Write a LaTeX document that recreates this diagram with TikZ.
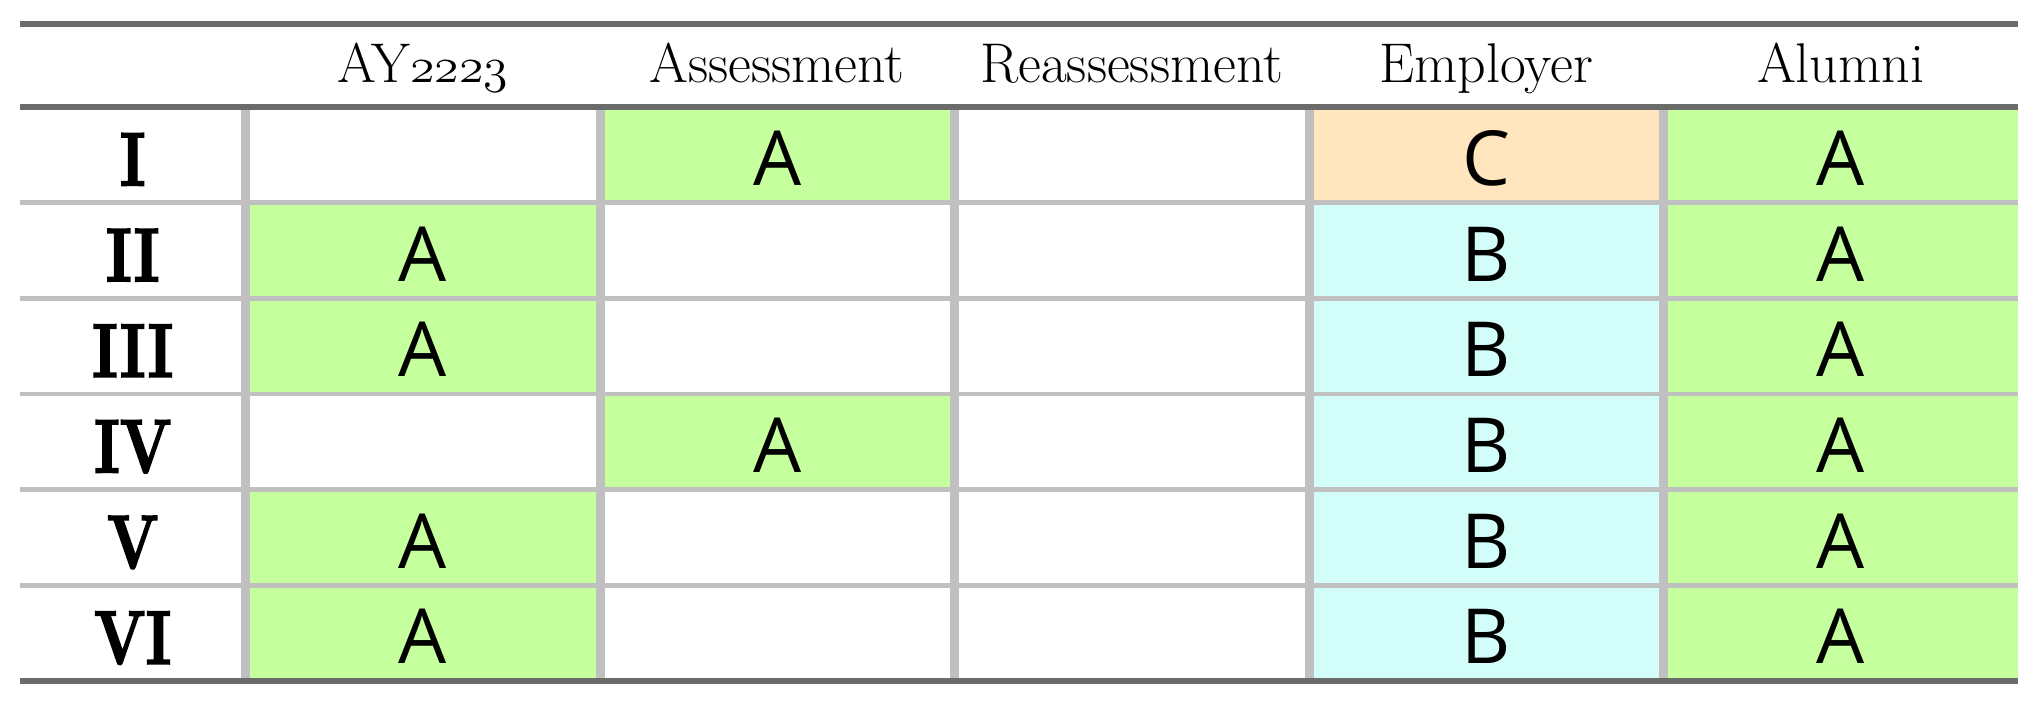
\documentclass[tikz,border=0pt]{standalone}
\usepackage{fontspec}
\newfontfamily\cellfont{Open Sans}
\newfontfamily\labfont{lmroman10-bold.otf}[FakeBold=2.5]
\definecolor{cgreen}{RGB}{197,255,158}
\definecolor{corange}{RGB}{255,230,190}
\definecolor{ccyan}{RGB}{210,253,249}
\definecolor{rulegray}{RGB}{107,107,107}
\definecolor{linegray}{RGB}{192,192,192}
\begin{document}
\begin{tikzpicture}[x=0.5pt,y=-0.5pt,
  hdr/.style={anchor=base,inner sep=0pt,font=\fontsize{28}{33}\selectfont},
  rowlab/.style={anchor=base,inner sep=0pt,font=\labfont\fontsize{38}{44}\selectfont},
  cell/.style={anchor=base,inner sep=0pt,font=\cellfont\fontsize{38}{44}\selectfont},
  thickrule/.style={draw=rulegray,line width=3.2pt},
  hsep/.style={draw=linegray,line width=2.2pt},
  vsep/.style={draw=linegray,line width=4.5pt}]
\def\xa{20}\def\xb{245.5}\def\xc{600}\def\xd{954.5}\def\xe{1309}\def\xf{1663.5}\def\xg{2018}
\def\ya{107}\def\yb{202.67}\def\yc{298.33}\def\yd{394}\def\ye{489.67}\def\yf{585.33}\def\yg{681}
\useasboundingbox (0,0) rectangle (2039,705);
% fills
\fill[cgreen] (\xf,\ya) rectangle (\xg,\yg);
\fill[ccyan] (\xe,\yb) rectangle (\xf,\yg);
\fill[corange] (\xe,\ya) rectangle (\xf,\yb);
\fill[cgreen] (\xb,\yb) rectangle (\xc,\yd);
\fill[cgreen] (\xb,\ye) rectangle (\xc,\yg);
\fill[cgreen] (\xc,\ya) rectangle (\xd,\yb);
\fill[cgreen] (\xc,\yd) rectangle (\xd,\ye);
% inner horizontal lines
\foreach \yy in {\yb,\yc,\yd,\ye,\yf}
  \draw[hsep] (\xa,\yy) -- (\xg,\yy);
% vertical lines
\foreach \xx in {\xb,\xc,\xd,\xe,\xf}
  \draw[vsep] (\xx,\ya) -- (\xx,\yg);
% thick rules
\draw[thickrule] (\xa,24) -- (\xg,24);
\draw[thickrule] (\xa,\ya) -- (\xg,\ya);
\draw[thickrule] (\xa,\yg) -- (\xg,\yg);
% header
\node[hdr] (h1) at (422.75,83) {AY{\usefont{OML}{cmm}{m}{it}2223}};
\node[hdr] (h2) at (777.25,83) {Assessment};
\node[hdr] (h3) at (1131.75,83) {Reassessment};
\node[hdr] (h4) at (1486.25,83) {Employer};
\node[hdr] (h5) at (1840.75,83) {Alumni};
% row labels
\node[rowlab] (r1) at (132.75,185.5) {\scalebox{0.78}[1]{I}};
\node[rowlab] (r2) at (132.75,281.2) {\scalebox{0.78}[1]{II}};
\node[rowlab] (r3) at (132.75,376.8) {\scalebox{0.78}[1]{III}};
\node[rowlab] (r4) at (132.75,472.5) {\scalebox{0.78}[1]{IV}};
\node[rowlab] (r5) at (132.75,568.2) {\scalebox{0.78}[1]{V}};
\node[rowlab] (r6) at (132.75,663.8) {\scalebox{0.78}[1]{VI}};
% cells
\node[cell] (c12) at (777.25,185.5) {A};
\node[cell] (c14) at (1486.25,185.5) {C};
\node[cell] (c15) at (1840.75,185.5) {A};
\node[cell] (c21) at (422.75,281.2) {A};
\node[cell] (c24) at (1486.25,281.2) {B};
\node[cell] (c25) at (1840.75,281.2) {A};
\node[cell] (c31) at (422.75,376.8) {A};
\node[cell] (c34) at (1486.25,376.8) {B};
\node[cell] (c35) at (1840.75,376.8) {A};
\node[cell] (c42) at (777.25,472.5) {A};
\node[cell] (c44) at (1486.25,472.5) {B};
\node[cell] (c45) at (1840.75,472.5) {A};
\node[cell] (c51) at (422.75,568.2) {A};
\node[cell] (c54) at (1486.25,568.2) {B};
\node[cell] (c55) at (1840.75,568.2) {A};
\node[cell] (c61) at (422.75,663.8) {A};
\node[cell] (c64) at (1486.25,663.8) {B};
\node[cell] (c65) at (1840.75,663.8) {A};
\end{tikzpicture}
\end{document}
